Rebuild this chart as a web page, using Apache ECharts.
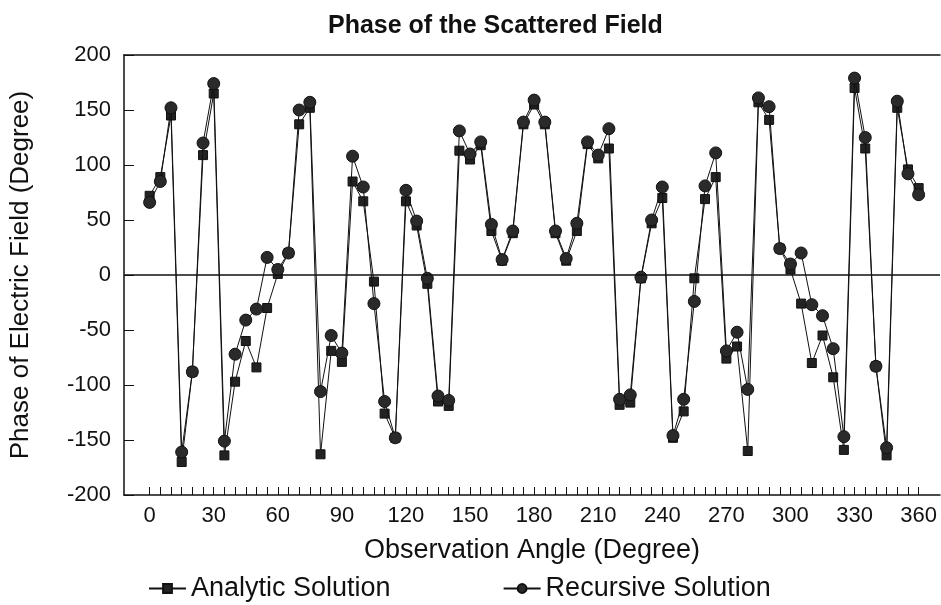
<!DOCTYPE html>
<html>
<head>
<meta charset="utf-8">
<script src="https://cdn.jsdelivr.net/npm/echarts@6/dist/echarts.min.js"></script>
<style>
html,body{margin:0;padding:0;background:#fff;}
#main{width:941px;height:605px;}
</style>
</head>
<body>
<div id="main"></div>
<script>
// Observation angles (degrees)
var angles = [0,5,10,15,20,25,30,35,40,45,50,55,60,65,70,75,80,85,90,95,100,105,110,115,120,125,130,135,140,145,150,155,160,165,170,175,180,185,190,195,200,205,210,215,220,225,230,235,240,245,250,255,260,265,270,275,280,285,290,295,300,305,310,315,320,325,330,335,340,345,350,355,360];
// Analytic solution phase (degrees)
var analytic = [72,89,145,-170,-88,109,165,-164,-97,-60,-84,-30,1,20,137,152,-163,-69,-79,85,67,-6,-126,-148,67,45,-8,-115,-119,113,105,118,40,13,38,137,155,137,38,13,40,119,106,115,-118,-116,-3,47,70,-148,-124,-3,69,89,-76,-65,-160,157,141,24,5,-26,-80,-55,-93,-159,170,115,-83,-164,152,96,79];
// Recursive solution phase (degrees)
var recursive = [66,85,152,-161,-88,120,174,-151,-72,-41,-31,16,5,20,150,157,-106,-55,-71,108,80,-26,-115,-148,77,49,-3,-110,-114,131,110,121,46,14,40,139,159,139,40,15,47,121,109,133,-113,-109,-2,50,80,-146,-113,-24,81,111,-69,-52,-104,161,153,24,10,20,-27,-37,-67,-147,179,125,-83,-157,158,92,73];
// Axis tick labels
var xLabels = [0,30,60,90,120,150,180,210,240,270,300,330,360];
var xTicks = angles;
var yLabels = [-200,-150,-100,-50,0,50,100,150,200];

function pairs(ys){ return angles.map(function(a,i){ return [a, ys[i]]; }); }

var FONT = '"Liberation Sans", Arial, sans-serif';
var ink = '#111';

var chart = echarts.init(document.getElementById('main'));
chart.setOption({
  animation: false,
  backgroundColor: '#fff',
  textStyle: { fontFamily: FONT, color: ink },
  title: {
    text: 'Phase of the Scattered Field',
    left: 323, top: 9,
    textStyle: { fontFamily: FONT, fontSize: 25, fontWeight: 'bold', color: ink }
  },
  legend: {
    left: 143, top: 570,
    itemGap: 112, itemWidth: 37, itemHeight: 11,
    textStyle: { fontFamily: FONT, fontSize: 27, color: ink },
    data: ['Analytic Solution', 'Recursive Solution']
  },
  grid: { left: 123, right: 1, top: 55, bottom: 110, containLabel: false },
  xAxis: [{
    type: 'value', min: -12, max: 370,
    name: 'Observation Angle (Degree)', nameLocation: 'middle', nameGap: 42,
    nameTextStyle: { fontFamily: FONT, fontSize: 27, color: ink },
    axisLine: { show: true, onZero: false, lineStyle: { color: ink, width: 1.5 } },
    axisTick: { show: true, inside: true, length: 8, customValues: xTicks, lineStyle: { color: ink, width: 1 } },
    axisLabel: { customValues: xLabels, fontFamily: FONT, fontSize: 22, color: ink, margin: 10 },
    splitLine: { show: false }
  }, {
    type: 'value', position: 'top', min: -12, max: 370,
    axisLine: { show: true, onZero: false, lineStyle: { color: ink, width: 1.5 } },
    axisTick: { show: false }, axisLabel: { show: false }, splitLine: { show: false }
  }],
  yAxis: {
    type: 'value', min: -200, max: 200, interval: 50,
    name: 'Phase of Electric Field (Degree)', nameLocation: 'middle', nameGap: 90, nameRotate: 90,
    nameTextStyle: { fontFamily: FONT, fontSize: 26, color: ink },
    axisLine: { show: true, onZero: false, lineStyle: { color: ink, width: 1.5 } },
    axisTick: { show: true, inside: true, length: 10, lineStyle: { color: ink, width: 1 } },
    axisLabel: { customValues: yLabels, fontFamily: FONT, fontSize: 22, color: ink, margin: 13 },
    splitLine: { show: false }
  },
  series: [{
    name: 'Analytic Solution', type: 'line', xAxisIndex: 0,
    data: pairs(analytic),
    symbol: 'rect', symbolSize: 9,
    lineStyle: { color: ink, width: 1 },
    itemStyle: { color: '#222', borderColor: ink, borderWidth: 1 },
    markLine: {
      silent: true, symbol: 'none', label: { show: false },
      lineStyle: { color: ink, width: 1.5, type: 'solid' },
      data: [{ yAxis: 0 }]
    },
    z: 2
  }, {
    name: 'Recursive Solution', type: 'line', xAxisIndex: 0,
    data: pairs(recursive),
    symbol: 'circle', symbolSize: 12,
    lineStyle: { color: ink, width: 1 },
    itemStyle: { color: '#2a2a2a', borderColor: ink, borderWidth: 1 },
    z: 3
  }]
});
</script>
</body>
</html>
